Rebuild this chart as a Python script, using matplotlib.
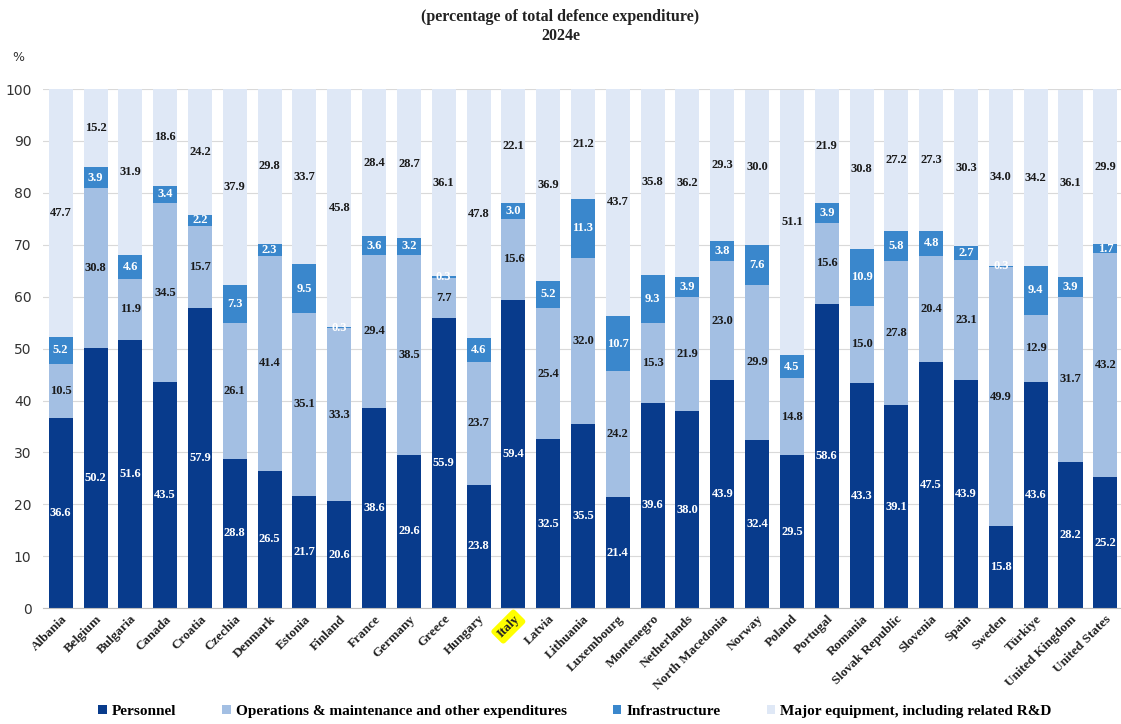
import matplotlib.pyplot as plt
import numpy as np

countries = ['Albania', 'Belgium', 'Bulgaria', 'Canada', 'Croatia', 'Czechia', 'Denmark',
             'Estonia', 'Finland', 'France', 'Germany', 'Greece', 'Hungary', 'Italy',
             'Latvia', 'Lithuania', 'Luxembourg', 'Montenegro', 'Netherlands',
             'North Macedonia', 'Norway', 'Poland', 'Portugal', 'Romania',
             'Slovak Republic', 'Slovenia', 'Spain', 'Sweden', 'Türkiye',
             'United Kingdom', 'United States']

personnel = [36.6, 50.2, 51.6, 43.5, 57.9, 28.8, 26.5, 21.7, 20.6, 38.6, 29.6, 55.9, 23.8,
             59.4, 32.5, 35.5, 21.4, 39.6, 38.0, 43.9, 32.4, 29.5, 58.6, 43.3, 39.1, 47.5,
             43.9, 15.8, 43.6, 28.2, 25.2]
operations = [10.5, 30.8, 11.9, 34.5, 15.7, 26.1, 41.4, 35.1, 33.3, 29.4, 38.5, 7.7, 23.7,
              15.6, 25.4, 32.0, 24.2, 15.3, 21.9, 23.0, 29.9, 14.8, 15.6, 15.0, 27.8, 20.4,
              23.1, 49.9, 12.9, 31.7, 43.2]
infrastructure = [5.2, 3.9, 4.6, 3.4, 2.2, 7.3, 2.3, 9.5, 0.3, 3.6, 3.2, 0.3, 4.6, 3.0, 5.2,
                  11.3, 10.7, 9.3, 3.9, 3.8, 7.6, 4.5, 3.9, 10.9, 5.8, 4.8, 2.7, 0.3, 9.4,
                  3.9, 1.7]
equipment = [47.7, 15.2, 31.9, 18.6, 24.2, 37.9, 29.8, 33.7, 45.8, 28.4, 28.7, 36.1, 47.8,
             22.1, 36.9, 21.2, 43.7, 35.8, 36.2, 29.3, 30.0, 51.1, 21.9, 30.8, 27.2, 27.3,
             30.3, 34.0, 34.2, 36.1, 29.9]

series = [
    ('Personnel', personnel, '#083b8c', 'white'),
    ('Operations & maintenance and other expenditures', operations, '#a3bfe3', '#1a1a1a'),
    ('Infrastructure', infrastructure, '#3a87cc', 'white'),
    ('Major equipment, including related R&D', equipment, '#dfe8f6', '#1a1a1a'),
]

serif = 'Liberation Serif'

fig = plt.figure(figsize=(11.21, 7.24), dpi=100)
ax = fig.add_axes([0.038, 0.160, 0.962, 0.717])

x = np.arange(len(countries))
bottom = np.zeros(len(countries))
for name, vals, col, tcol in series:
    vals = np.array(vals)
    bars = ax.bar(x, vals, 0.69, bottom=bottom, color=col, label=name, zorder=2)
    ax.bar_label(bars, fmt='%.1f', label_type='center', color=tcol, fontsize=9,
                 fontweight='bold', family=serif)
    bottom += vals

ax.set_xlim(-0.52, len(countries) - 0.55)
ax.set_ylim(0, 100)
ax.set_yticks(range(0, 101, 10))
ax.yaxis.grid(True, color='#d9d9d9', lw=0.8, zorder=0)
for s in ['top', 'right', 'left']:
    ax.spines[s].set_visible(False)
ax.spines['bottom'].set_color('#bfbfbf')
ax.tick_params(axis='both', length=0)
ax.tick_params(axis='y', labelsize=10, labelcolor='#333333', pad=8)
ax.set_xticks(x)
ax.set_xticklabels(countries, rotation=45, ha='right', rotation_mode='anchor',
                   fontsize=9.5, fontweight='bold', family=serif, color='#222222')
for lab in ax.get_xticklabels():
    if lab.get_text() == 'Italy':
        lab.set_bbox(dict(boxstyle='round,pad=0.25', fc='#ffff00', ec='none'))

fig.text(0.5, 0.977, '(percentage of total defence expenditure)', ha='center', va='center',
         fontsize=11.5, fontweight='bold', family=serif, color='#222222')
fig.text(0.5, 0.950, '2024e', ha='center', va='center',
         fontsize=11.5, fontweight='bold', family=serif, color='#222222')
fig.text(0.011, 0.921, '%', ha='left', va='center', fontsize=9, color='#333333')

fig.legend(loc='center', bbox_to_anchor=(0.513, 0.017), ncol=4, frameon=False,
           handlelength=0.55, handleheight=0.55, handletextpad=0.35, columnspacing=3.0,
           prop={'family': serif, 'weight': 'bold', 'size': 11})

fig.savefig('out.png', dpi=100)
